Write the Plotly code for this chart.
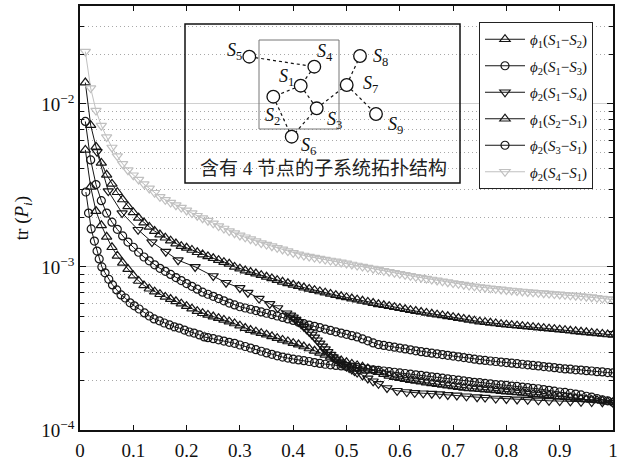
import plotly.graph_objects as go

# ---- data -------------------------------------------------------------
# common abscissa for the uniformly sampled curves
x_grid = [round(0.01 * k, 2) for k in range(1, 101)]

# phi1(S1-S2), values in units of 1e-5
phi1_s1s2 = [1350, 740, 545, 434, 367, 323, 287, 259, 235, 216,
             200, 187, 176, 166, 158, 151, 145, 139, 134, 131,
             127, 123, 119, 116, 113, 110, 107, 104.5, 100, 97.5,
             95, 93, 91, 89, 87, 85, 83, 81, 79.3, 77.7,
             76.1, 74.7, 73.3, 72, 70.7, 69.5, 68.3, 67.1, 66, 65,
             64, 63, 62, 61, 60, 59, 58.2, 57.4, 56.6, 55.8,
             55, 54.3, 53.6, 52.9, 52.2, 51.6, 51, 50.4, 49.8, 49.2,
             48.6, 48, 47.4, 46.8, 46.2, 45.8, 45.4, 45, 44.6, 44.2,
             43.9, 43.6, 43.3, 43, 42.7, 42.4, 42.1, 41.8, 41.5, 41.2,
             40.9, 40.6, 40.3, 40, 39.7, 39.4, 39.1, 38.8, 38.5, 38.3]

# phi2(S1-S3)
phi2_s1s3 = [780, 453, 320, 255, 214, 188, 170, 155, 142, 132,
             123, 115, 109, 103, 98, 94, 90, 86, 82.5, 79,
             76, 73, 70, 68, 66, 64, 62, 60, 58.5, 57,
             56, 55, 54, 53, 52, 51, 50, 49, 48, 47,
             45.8, 44.9, 44, 43.2, 42.4, 41.6, 40.8, 40, 39.3, 38.6,
             37.9, 37.2, 36.2, 35.2, 34.2, 33.4, 33, 32.6, 32.2, 31.8,
             31.4, 31, 30.6, 30.2, 29.9, 29.6, 29.3, 29, 28.7, 28.4,
             28.1, 27.8, 27.5, 27.2, 26.9, 26.7, 26.5, 26.3, 26.1, 25.9,
             25.7, 25.5, 25.3, 25.1, 24.9, 24.7, 24.5, 24.3, 24.1, 23.9,
             23.7, 23.6, 23.4, 23.3, 23.1, 23, 22.8, 22.7, 22.5, 22.4]

# phi2(S1-S4), irregular sampling
x_s1s4 = [0.032, 0.053, 0.079, 0.109, 0.135, 0.161, 0.184, 0.216, 0.25, 0.274,
          0.30, 0.315, 0.336, 0.356, 0.371, 0.388, 0.395, 0.40, 0.405, 0.41,
          0.415, 0.42, 0.425, 0.43, 0.435, 0.44, 0.445, 0.45, 0.455, 0.46,
          0.465, 0.47, 0.475, 0.48, 0.485, 0.49, 0.495, 0.50, 0.505, 0.51,
          0.515, 0.52, 0.53, 0.54, 0.55, 0.56, 0.576, 0.595, 0.613, 0.628,
          0.644, 0.66, 0.675, 0.69, 0.707, 0.725, 0.745, 0.76, 0.78, 0.80,
          0.82, 0.84, 0.86, 0.88, 0.90, 0.92, 0.94, 0.96, 0.98, 1.0]
phi2_s1s4 = [508, 292, 214, 169, 142, 124, 110, 100, 88, 80,
             74.3, 69.5, 64, 59.3, 56, 52, 50.5, 49, 47.5, 46,
             44.5, 43, 41.5, 40, 38.5, 37, 35.5, 34, 32.6, 31.3,
             30.1, 29, 28, 27.1, 26.3, 25.6, 25, 24.5, 24, 23.5,
             23, 22.5, 21.6, 20.7, 19.9, 19.2, 18.1, 17.4, 17.1, 16.9,
             16.8, 16.7, 16.6, 16.4, 16.3, 16.1, 15.9, 15.8, 15.6, 15.5,
             15.4, 15.3, 15.2, 15.1, 15.05, 15, 14.9, 14.85, 14.8, 14.7]

# phi1(S2-S1)
phi1_s2s1 = [522, 310, 220, 180, 153, 132, 117, 106, 97, 88.5,
             82, 77, 73.5, 70.5, 68, 65.5, 63.5, 61.5, 59.5, 57.5,
             55.5, 53.5, 52, 50.8, 49.6, 48.5, 47.3, 46.2, 45, 43.6,
             42.2, 41, 40.1, 39.2, 38.4, 37.5, 36.6, 35.7, 34.9, 34.1,
             33.4, 32.5, 31.6, 30.6, 29.7, 28.9, 28.1, 27.4, 26.7, 26,
             25.4, 24.9, 24.4, 23.8, 23.2, 22.6, 22, 21.5, 21.1, 20.8,
             20.5, 20.2, 20, 19.8, 19.5, 19.3, 19.1, 18.9, 18.7, 18.5,
             18.3, 18.1, 18, 17.9, 17.8, 17.7, 17.6, 17.5, 17.3, 17.2,
             17.1, 17, 16.9, 16.7, 16.6, 16.5, 16.4, 16.3, 16.1, 16,
             15.9, 15.8, 15.6, 15.5, 15.4, 15.3, 15.2, 15.1, 14.9, 14.8]

# phi2(S3-S1), denser sampling near the origin
x_s3s1 = [0.011, 0.016, 0.021, 0.027, 0.032, 0.036, 0.041, 0.047, 0.054, 0.061,
          0.069, 0.077, 0.085, 0.094, 0.102, 0.111, 0.121, 0.130, 0.139, 0.149,
          0.158, 0.168, 0.177, 0.186, 0.196, 0.205, 0.214, 0.224, 0.233] + \
         [round(0.01 * k, 2) for k in range(24, 101)]
phi2_s3s1 = [288, 214, 171, 144, 125, 112, 100, 92, 84, 77.6,
             72.3, 67.3, 64.5, 60.2, 57.7, 55.2, 52.2, 50, 48, 46.7,
             45.3, 44.1, 42.9, 42.2, 41, 39.9, 39.3, 38.3, 37.2,
             36.8, 36.3, 35.7, 35.1, 34.5, 34, 33.2, 32.5, 31.8, 31.1,
             30.4, 29.7, 29.1, 28.5, 28, 27.6, 27.2, 26.9, 26.6, 26.3,
             25.9, 25.6, 25.3, 25.1, 24.9, 24.7, 24.5, 24.3, 24.1, 23.9,
             23.6, 23.4, 23.2, 23, 22.8, 22.6, 22.4, 22.2, 22, 21.8,
             21.6, 21.4, 21.2, 21, 20.8, 20.6, 20.4, 20.2, 20, 19.8,
             19.6, 19.5, 19.3, 19.2, 19, 18.9, 18.8, 18.6, 18.5, 18.3,
             18.2, 18.0, 17.9, 17.7, 17.5, 17.3, 17.1, 17, 16.8, 16.6,
             16.4, 16.1, 15.9, 15.6, 15.3, 15.1, 14.8]

# phi2(S4-S1)
phi2_s4s1 = [2090, 1250, 910, 735, 625, 540, 478, 428, 392, 365,
             343, 322, 303, 285, 269, 258, 248, 239, 231, 222,
             214, 206, 199, 192, 185, 178, 172, 166, 161, 156,
             152, 148, 144, 140, 137, 134, 131, 128, 125, 122,
             119.5, 117.5, 115.7, 114, 112.5, 111, 109.5, 108, 106.5, 105,
             103.5, 102, 100.5, 99, 97.5, 96, 94.6, 93.3, 92, 90.7,
             89.4, 88.2, 87, 85.9, 84.8, 83.7, 82.6, 81.6, 80.6, 79.6,
             78.7, 77.8, 76.9, 76, 75.2, 74.6, 74, 73.4, 72.8, 72.2,
             71.7, 71.2, 70.7, 70.2, 69.8, 69.4, 69, 68.6, 68.2, 67.8,
             67.4, 67, 66.6, 66.2, 65.7, 65.2, 64.6, 64, 63.5, 63]

x_ticks = [0, 0.1, 0.2, 0.3, 0.4, 0.5, 0.6, 0.7, 0.8, 0.9, 1]
x_labels = ["0", "0.1", "0.2", "0.3", "0.4", "0.5", "0.6", "0.7", "0.8", "0.9", "1"]
y_ticks = [1e-4, 1e-3, 1e-2]
y_labels = ["10<sup>−4</sup>", "10<sup>−3</sup>", "10<sup>−2</sup>"]
y_minor = [m * 10.0 ** e for e in (-4, -3, -2) for m in range(2, 10)
           if m * 10.0 ** e < 0.04]

SCALE = 1e-5
SERIF = "Liberation Serif"


def leg(phi, a, b):
    return (f"<i>ϕ</i><sub>{phi}</sub>(<i>S</i><sub>{a}</sub>"
            f"−<i>S</i><sub>{b}</sub>)")


series = [
    (x_grid, phi1_s1s2, leg(1, 1, 2), "triangle-up-open", "#151515", 9),
    (x_grid, phi2_s1s3, leg(2, 1, 3), "circle-open", "#151515", 8),
    (x_s1s4, phi2_s1s4, leg(2, 1, 4), "triangle-down-open", "#151515", 9),
    (x_grid, phi1_s2s1, leg(1, 2, 1), "triangle-up-open", "#151515", 9),
    (x_s3s1, phi2_s3s1, leg(2, 3, 1), "circle-open", "#151515", 8),
    (x_grid, phi2_s4s1, leg(2, 4, 1), "triangle-down-open", "#c0c0c0", 9),
]

fig = go.Figure()
for i, (xs, ys, name, sym, col, size) in enumerate(series):
    fig.add_trace(go.Scatter(
        x=xs, y=[v * SCALE for v in ys], name=name, mode="lines+markers",
        legendgroup=f"g{i}",
        line=dict(color=col, width=1),
        marker=dict(symbol=sym, size=size, color=col,
                    line=dict(color=col, width=1.2)),
    ))

# ---- inset: subsystem topology -----------------------------------------
L, R, T, B = 80, 613, 6, 430


def px(x):
    return (x - L) / (R - L)


def py(y):
    return (B - y) / (B - T)


nodes = {
    1: (300.7, 85.7), 2: (273.3, 96.7), 3: (316.7, 108.3),
    4: (314.3, 66.7), 5: (249.3, 56.7), 6: (291.7, 136.7),
    7: (346.7, 85.0), 8: (360.0, 56.0), 9: (376.0, 114.0),
}
label_pos = {
    1: (286, 78), 2: (272, 116), 3: (334, 120), 4: (325, 53),
    5: (234, 51), 6: (308, 146), 7: (370, 84), 8: (380, 58), 9: (395, 125),
}
edges = [(5, 4), (4, 1), (1, 2), (1, 3), (2, 6), (3, 6), (3, 7), (7, 8), (7, 9)]

shapes = [
    dict(type="rect", xref="paper", yref="paper",
         x0=px(185), x1=px(460), y0=py(183), y1=py(24),
         line=dict(color="#111", width=1.5)),
    dict(type="rect", xref="paper", yref="paper",
         x0=px(259), x1=px(339), y0=py(129), y1=py(40),
         line=dict(color="#777", width=1)),
]
for a, b in edges:
    (xa, ya), (xb, yb) = nodes[a], nodes[b]
    shapes.append(dict(type="line", xref="paper", yref="paper",
                       x0=px(xa), y0=py(ya), x1=px(xb), y1=py(yb),
                       line=dict(color="#111", width=1.2, dash="dot")))
r = 6.3
for cx, cy in nodes.values():
    shapes.append(dict(type="circle", xref="paper", yref="paper",
                       x0=px(cx - r), x1=px(cx + r), y0=py(cy + r), y1=py(cy - r),
                       fillcolor="white", line=dict(color="#111", width=1.3)))

annotations = []
for k, (lx, ly) in label_pos.items():
    annotations.append(dict(xref="paper", yref="paper", x=px(lx), y=py(ly),
                            xanchor="center", yanchor="middle",
                            text=f"<i>S</i><sub>{k}</sub>", showarrow=False,
                            font=dict(family=SERIF, size=18, color="#111")))
annotations.append(dict(xref="paper", yref="paper", x=px(323), y=py(168),
                        xanchor="center", yanchor="middle",
                        text="含有 4 节点的子系统拓扑结构", showarrow=False,
                        font=dict(family="Liberation Serif, Noto Sans CJK SC",
                                  size=19, color="#222")))

fig.update_layout(
    width=624, height=461,
    margin=dict(l=L, r=624 - R, t=T, b=461 - B, autoexpand=False),
    paper_bgcolor="white", plot_bgcolor="white",
    font=dict(family=SERIF, size=18, color="#111"),
    shapes=shapes, annotations=annotations,
    legend=dict(x=px(479), y=py(22), xanchor="left", yanchor="top",
                bgcolor="white", bordercolor="#222", borderwidth=1,
                font=dict(family=SERIF, size=15, color="#111"),
                tracegroupgap=4, itemwidth=40),
    xaxis=dict(range=[0, 1], tickvals=x_ticks, ticktext=x_labels,
               ticks="inside", ticklen=5, tickcolor="#111", automargin=False,
               showline=True, linecolor="#111", linewidth=1.5, mirror="ticks",
               showgrid=False, zeroline=False, ticklabelstandoff=2,
               tickfont=dict(family=SERIF, size=19)),
    yaxis=dict(type="log", range=[-4, -1.4], tickvals=y_ticks, ticktext=y_labels,
               ticks="inside", ticklen=6, tickcolor="#111", automargin=False,
               showline=True, linecolor="#111", linewidth=1.5, mirror="ticks",
               showgrid=True, gridcolor="#d0d0d0", gridwidth=1,
               tickfont=dict(family=SERIF, size=19),
               title=dict(text="tr (<i>P</i><sub><i>i</i></sub>)",
                          font=dict(family=SERIF, size=19), standoff=8),
               minor=dict(tickvals=y_minor, ticks="inside", ticklen=4,
                          tickcolor="#111", showgrid=True, gridcolor="#a8a8a8",
                          griddash="1px,3px", gridwidth=1)),
)

fig.write_html("out.html")
